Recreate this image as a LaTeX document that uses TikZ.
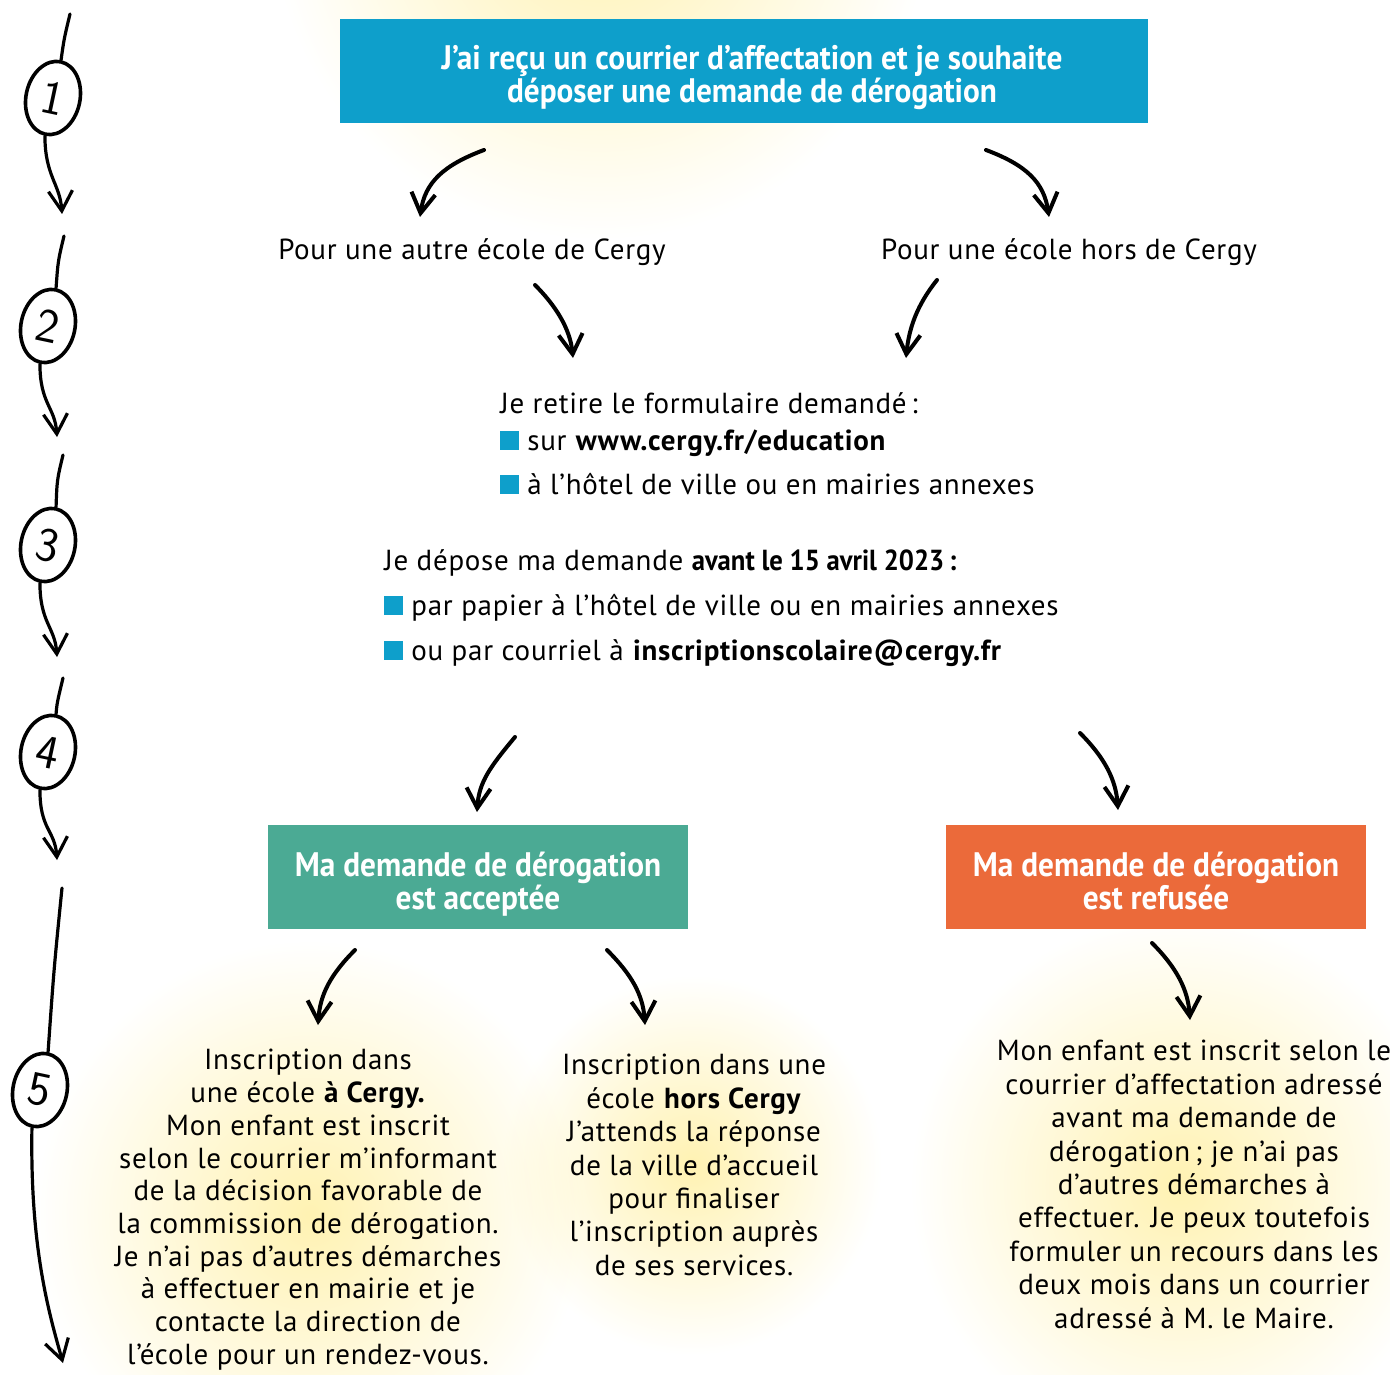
\documentclass[tikz,border=0pt]{standalone}
\usepackage{fontspec}
\setmainfont{PT Sans}[LetterSpace=2.5]
\newfontfamily\headfont[FakeStretch=0.92]{PT Sans}
\usetikzlibrary{shapes.geometric,arrows.meta,calc,positioning}
\definecolor{cergyblue}{RGB}{14,159,203}
\definecolor{cergygreen}{RGB}{75,170,148}
\definecolor{cergyorange}{RGB}{235,106,58}
\definecolor{glow}{RGB}{255,242,178}
\newcommand{\puce}{\textcolor{cergyblue}{\rule{9.5pt}{9.5pt}}\hspace{4pt}}

\begin{document}
\begin{tikzpicture}[x=0.5pt,y=-0.5pt,
  every node/.style={inner sep=0pt,font=\fontsize{14.5}{16.7}\selectfont},
  boite/.style={minimum height=52pt},
  titre/.style={text=white,align=center,font=\headfont\bfseries\fontsize{17}{16.5}\selectfont},
  pointe/.style={-{Straight Barb[length=10pt,width=12pt]}},
  hand/.style={line width=2pt,line cap=round,pointe},
  fil/.style={line width=1.6pt,line cap=round},
  numero/.style={draw,ellipse,line width=1.8pt,minimum width=27pt,minimum height=37pt,
    font=\sffamily\fontsize{24}{24}\selectfont},
  halo/.style={inner color=glow,outer color=white}]
\useasboundingbox (0,0) rectangle (1390,1374);

% halos
\begin{scope}[blend mode=multiply]
\shade[halo] (600,-90) circle (330);
\shade[halo] (310,1215) circle (275);
\shade[halo] (692,1165) circle (190);
\shade[halo] (1180,1185) circle (270);
\end{scope}

% etapes
\foreach \i/\x/\y in {1/53/98,2/48/326,3/48/545,4/48/752,5/40/1090}
  \node[numero,rotate=-12] (n\i) at (\x,\y) {\i};
\foreach \i/\xa/\ya/\xb/\yb in {1/70/14/62/214,2/64/236/57/437,3/63/455/57/657,4/63/678/57/860} {
  \coordinate (t\i) at (\xa,\ya);
  \coordinate (b\i) at (\xb,\yb);
  \draw[fil] (t\i) .. controls +(-6,25) .. (n\i.north);
  \draw[fil,pointe] (n\i.south) .. controls +(0,40) and +(-2,-30) .. (b\i);
}
\coordinate (t5) at (62,888);
\coordinate (b5) at (63,1363);
\draw[fil] (t5) .. controls +(-8,80) .. (n5.north);
\draw[fil,pointe] (n5.south) .. controls +(-2,120) and +(-14,-50) .. (b5);

% demande
\node[boite,fill=cergyblue,minimum width=404pt] (recu) at (744,71.5) {};
\node[titre,xshift=4pt,yshift=-3.5pt] at (recu) {J’ai reçu un courrier d’affectation et je souhaite\\déposer une demande de dérogation\strut};

\node (autre) at (472,252) {Pour une autre école de Cergy};
\node (hors) at (1069,252) {Pour une école hors de Cergy};

\node[anchor=north west,align=left] (retire) at (500,392)
  {Je retire le formulaire demandé\,:\\[1.8pt]
   \puce sur \textbf{www.cergy.fr/education}\\[5.3pt]
   \puce à l’hôtel de ville ou en mairies annexes};

\node[anchor=north west,align=left] (depose) at (384,549)
  {Je dépose ma demande {\headfont\bfseries avant le 15 avril 2023\,:}\\[5.8pt]
   \puce par papier à l’hôtel de ville ou en mairies annexes\\[5.8pt]
   \puce ou par courriel à \textbf{inscriptionscolaire@cergy.fr}};

\node[boite,fill=cergygreen,minimum width=210pt] (acceptee) at (478,877) {};
\node[titre,yshift=-4.5pt] at (acceptee) {Ma demande de dérogation\\est acceptée\strut};
\node[boite,fill=cergyorange,minimum width=210pt] (refusee) at (1156,877) {};
\node[titre,yshift=-4.5pt] at (refusee) {Ma demande de dérogation\\est refusée\strut};

\node[anchor=north,align=center,font=\fontsize{14.5}{16.35}\selectfont] (cergy) at (308,1049)
  {Inscription dans\\une école \textbf{à Cergy.}\\Mon enfant est inscrit\\
   selon le courrier m’informant\\de la décision favorable de\\
   la commission de dérogation.\\Je n’ai pas d’autres démarches\\
   à effectuer en mairie et je\\contacte la direction de\\
   l’école pour un rendez-vous.};

\node[anchor=north,align=center] (ailleurs) at (694,1054)
  {Inscription dans une\\école \textbf{hors Cergy}\\J’attends la réponse\\
   de la ville d’accueil\\pour finaliser\\l’inscription auprès\\de ses services.};

\node[anchor=north,align=center] (recours) at (1194,1040)
  {Mon enfant est inscrit selon le\\courrier d’affectation adressé\\
   avant ma demande de\\dérogation\,; je n’ai pas\\d’autres démarches à\\
   effectuer. Je peux toutefois\\formuler un recours dans les\\
   deux mois dans un courrier\\adressé à M. le Maire.};

% fleches
\foreach \n/\xa/\ya/\xb/\yb in {a/484/150/420/217,c/535/285/573/358,
    e/515/737/477/812,g/355/950/318/1025}
  \coordinate (\n1) at (\xa,\ya) coordinate (\n2) at (\xb,\yb);
\foreach \n/\xa/\ya/\xb/\yb in {b/986/150/1049/217,d/937/280/906/358,
    f/1080/733/1118/810,h/607/950/645/1025,i/1152/943/1190/1020}
  \coordinate (\n1) at (\xa,\ya) coordinate (\n2) at (\xb,\yb);
\draw[hand] (a1) .. controls +(-40,15) and +(5,-35) .. (a2);
\draw[hand] (b1) .. controls +(40,15) and +(-5,-35) .. (b2);
\draw[hand] (c1) .. controls +(20,20) and +(-3,-30) .. (c2);
\draw[hand] (d1) .. controls +(-20,25) and +(3,-30) .. (d2);
\draw[hand] (e1) .. controls +(-25,30) and +(2,-30) .. (e2);
\draw[hand] (f1) .. controls +(25,25) and +(-2,-30) .. (f2);
\draw[hand] (g1) .. controls +(-25,25) and +(2,-30) .. (g2);
\draw[hand] (h1) .. controls +(25,25) and +(-2,-30) .. (h2);
\draw[hand] (i1) .. controls +(25,25) and +(-2,-30) .. (i2);
\end{tikzpicture}
\end{document}
